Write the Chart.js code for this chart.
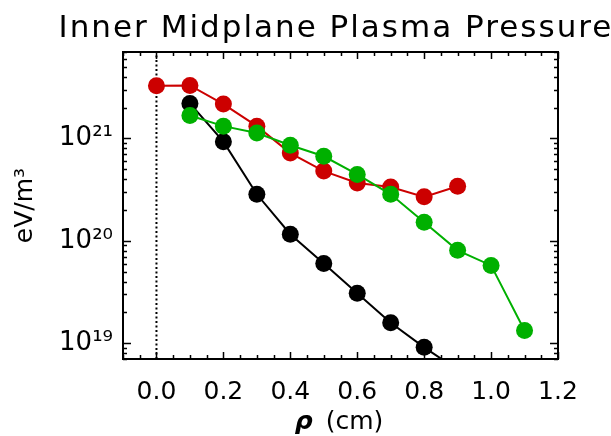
<!doctype html>
<html>
<head>
  <meta charset="utf-8">
  <script src="https://cdn.jsdelivr.net/npm/chart.js"></script>
  <style>
    body { margin: 0; background: #fff; }
  </style>
</head>
<body>
  <canvas id="pressureChart" width="611" height="436"></canvas>
  <script>
    // data
    var chartTitle = 'Inner Midplane Plasma Pressure';
    var rhoBlack = [0.1, 0.2, 0.3, 0.4, 0.5, 0.6, 0.7, 0.8, 0.9];
    var presBlack = [2.2e21, 9.3e20, 2.85e20, 1.16e20, 6.0e19, 3.08e19, 1.58e19, 9.1e18, 5.5e18];
    var rhoRed = [0.0, 0.1, 0.2, 0.3, 0.4, 0.5, 0.6, 0.7, 0.8, 0.9];
    var presRed = [3.27e21, 3.3e21, 2.17e21, 1.32e21, 7.2e20, 4.8e20, 3.68e20, 3.36e20, 2.69e20, 3.41e20];
    var rhoGreen = [0.1, 0.2, 0.3, 0.4, 0.5, 0.6, 0.7, 0.8, 0.9, 1.0, 1.1];
    var presGreen = [1.68e21, 1.32e21, 1.13e21, 8.6e20, 6.7e20, 4.45e20, 2.85e20, 1.52e20, 8.07e19, 5.75e19, 1.33e19];
    var xTickValues = [0.0, 0.2, 0.4, 0.6, 0.8, 1.0, 1.2];
    var yTickValues = [1e19, 1e20, 1e21];
    var yTickLabels = ['10¹⁹', '10²⁰', '10²¹'];

    var FONT = 'DejaVu Sans';

    function pts(xs, ys) {
      return xs.map(function (x, i) { return { x: x, y: ys[i] }; });
    }

    // inward ticks on all four sides, frame, title and x title
    var framePlugin = {
      id: 'frame',
      afterDraw: function (chart) {
        var ctx = chart.ctx, a = chart.chartArea;
        var xs = chart.scales.x, ys = chart.scales.y;
        ctx.save();
        ctx.strokeStyle = '#000';
        ctx.lineWidth = 1.5;
        ctx.beginPath();
        // x ticks every 0.05
        for (var i = 0; i <= 26; i++) {
          var v = -0.1 + i * 0.05;
          var major = Math.abs(Math.round(v * 5) - v * 5) < 1e-6;
          var len = major ? 7 : 4;
          var px = Math.round(xs.getPixelForValue(v)) + 0.5;
          ctx.moveTo(px, a.bottom); ctx.lineTo(px, a.bottom - len);
          ctx.moveTo(px, a.top); ctx.lineTo(px, a.top + len);
        }
        // y log ticks
        for (var d = 18; d <= 21; d++) {
          for (var m = 1; m <= 9; m++) {
            var val = m * Math.pow(10, d);
            if (val < ys.min || val > ys.max) continue;
            var l = m === 1 ? 8 : 4;
            var py = Math.round(ys.getPixelForValue(val)) + 0.5;
            ctx.moveTo(a.left, py); ctx.lineTo(a.left + l, py);
            ctx.moveTo(a.right, py); ctx.lineTo(a.right - l, py);
          }
        }
        ctx.stroke();
        ctx.lineWidth = 2;
        ctx.strokeRect(a.left, a.top, a.right - a.left, a.bottom - a.top);

        ctx.fillStyle = '#000';
        ctx.textBaseline = 'alphabetic';
        ctx.textAlign = 'center';
        ctx.font = '31px "' + FONT + '"';
        ctx.letterSpacing = '2px';
        ctx.fillText(chartTitle, 336, 37);
        ctx.letterSpacing = '0px';

        // x axis title: bold italic rho + (cm)
        ctx.textAlign = 'left';
        ctx.font = 'italic bold 25px "' + FONT + '"';
        var w1 = ctx.measureText('ρ').width + 13;
        ctx.font = '25px "' + FONT + '"';
        var w2 = ctx.measureText('(cm)').width;
        var x0 = 339 - (w1 + w2) / 2;
        ctx.font = 'italic bold 25px "' + FONT + '"';
        ctx.fillText('ρ', x0, 429);
        ctx.font = '25px "' + FONT + '"';
        ctx.fillText('(cm)', x0 + w1, 429);
        ctx.restore();
      }
    };

    var ctx = document.getElementById('pressureChart').getContext('2d');
    var pressureChart = new Chart(ctx, {
      type: 'line',
      data: {
        datasets: [{
          label: 'green',
          data: pts(rhoGreen, presGreen),
          borderColor: '#00b000',
          backgroundColor: '#00b000',
          borderWidth: 2,
          pointRadius: 8.5,
          pointBorderWidth: 0
        }, {
          label: 'red',
          data: pts(rhoRed, presRed),
          borderColor: '#cc0000',
          backgroundColor: '#cc0000',
          borderWidth: 2,
          pointRadius: 8.5,
          pointBorderWidth: 0
        }, {
          label: 'black',
          data: pts(rhoBlack, presBlack),
          borderColor: '#000',
          backgroundColor: '#000',
          borderWidth: 2,
          pointRadius: 8.5,
          pointBorderWidth: 0,
          clip: 0
        }, {
          label: 'rho=0',
          data: [{ x: 0, y: 7e18 }, { x: 0, y: 7e21 }],
          borderColor: '#000',
          borderWidth: 2,
          borderDash: [2, 2.5],
          pointRadius: 0
        }]
      },
      options: {
        responsive: false,
        animation: false,
        layout: { padding: { left: 0, top: 52, right: 53, bottom: 0 } },
        plugins: {
          legend: { display: false },
          title: { display: false },
          tooltip: { enabled: false }
        },
        scales: {
          x: {
            type: 'linear',
            min: -0.1,
            max: 1.2,
            afterBuildTicks: function (sc) {
              sc.ticks = xTickValues.map(function (v) { return { value: v }; });
            },
            afterFit: function (sc) { sc.height = 77; },
            grid: { display: false, drawTicks: false },
            border: { display: false },
            ticks: {
              color: '#000',
              padding: 18,
              maxRotation: 0,
              font: { family: FONT, size: 25 },
              callback: function (v) { return v.toFixed(1); }
            }
          },
          y: {
            type: 'logarithmic',
            min: 7e18,
            max: 7e21,
            afterBuildTicks: function (sc) {
              sc.ticks = yTickValues.map(function (v) { return { value: v }; });
            },
            afterFit: function (sc) { sc.width = 123; },
            grid: { display: false, drawTicks: false },
            border: { display: false },
            title: {
              display: true,
              text: 'eV/m³',
              color: '#000',
              font: { family: FONT, size: 25 },
              padding: { top: 10, bottom: 0 }
            },
            ticks: {
              color: '#000',
              padding: 10,
              font: { family: FONT, size: 26 },
              callback: function (v) {
                var i = yTickValues.indexOf(v);
                return i >= 0 ? yTickLabels[i] : '';
              }
            }
          }
        }
      },
      plugins: [framePlugin]
    });
  </script>
</body>
</html>
